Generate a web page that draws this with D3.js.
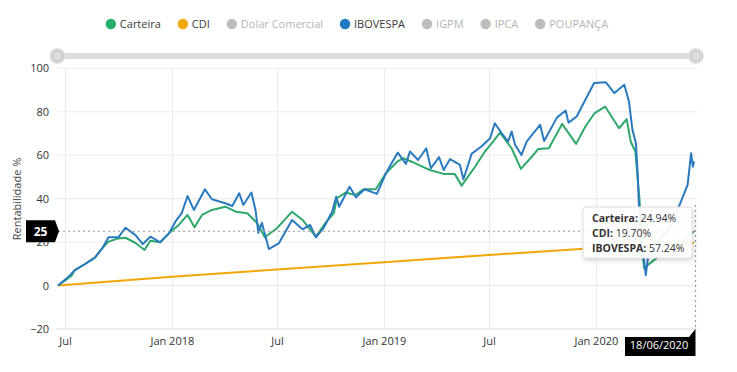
<!DOCTYPE html>
<html><head><meta charset="utf-8">
<script src="https://cdn.jsdelivr.net/npm/d3@7"></script>
<style>
body{margin:0;background:#fff;}
svg{display:block;font-family:"Open Sans",sans-serif;}
</style></head>
<body><svg id="c" width="737" height="372"></svg>
<script>
const legendNames = ["Carteira","CDI","Dolar Comercial","IBOVESPA","IGPM","IPCA","POUPANÇA"];
const legendActive = [true,true,false,true,false,false,false];
const legendColors = ["#27ad6c","#f4a70a","#bdbdbd","#2079c3","#bdbdbd","#bdbdbd","#bdbdbd"];

const ibovDates = ["2017-06-19","2017-07-04","2017-07-18","2017-08-04","2017-08-22","2017-09-03","2017-09-14","2017-10-01","2017-10-13","2017-10-30","2017-11-12","2017-11-25","2017-12-12","2017-12-27","2018-01-07","2018-01-18","2018-01-28","2018-02-08","2018-02-27","2018-03-11","2018-04-03","2018-04-15","2018-04-27","2018-05-04","2018-05-18","2018-05-25","2018-05-30","2018-06-05","2018-06-17","2018-07-04","2018-07-27","2018-08-14","2018-08-27","2018-09-06","2018-09-19","2018-10-04","2018-10-11","2018-10-16","2018-11-03","2018-11-14","2018-11-29","2018-12-20","2019-01-06","2019-01-25","2019-02-08","2019-02-15","2019-03-01","2019-03-15","2019-03-23","2019-04-06","2019-04-14","2019-04-25","2019-05-12","2019-05-18","2019-05-27","2019-06-01","2019-06-18","2019-07-03","2019-07-11","2019-07-23","2019-08-03","2019-08-09","2019-08-15","2019-08-26","2019-09-04","2019-09-13","2019-09-27","2019-10-04","2019-10-26","2019-11-10","2019-11-15","2019-11-29","2019-12-29","2020-01-18","2020-02-02","2020-02-19","2020-02-27","2020-03-04","2020-03-10","2020-03-13","2020-03-15","2020-03-20","2020-03-24","2020-03-27","2020-03-31","2020-04-10","2020-04-20","2020-04-30","2020-05-10","2020-05-23","2020-06-07","2020-06-13","2020-06-16","2020-06-18"];
const ibovValues = [0,3.3,7.1,9.8,13,17.1,22.2,22.2,26.6,23.3,19.1,22.5,19.9,24,29.4,33.3,41.2,34.8,44.3,39.7,37.9,36.6,42.5,37.1,42.8,34.8,24.3,28.9,16.8,19.4,30.2,25.9,27.9,22.2,26.4,34,40.9,36.3,45.5,40.6,44.3,42.2,52.4,61.2,56,61.7,57.8,63.2,54,59.1,53.2,58.2,55.5,48.9,56.3,60.6,64,67.8,74.7,70.1,66.3,70.9,64.7,60.1,66.3,69.4,74,66.5,77.3,80.6,75,77.8,93.2,93.6,88.6,92.4,84.7,71.7,65.5,51.7,37.9,17.9,11.8,4.8,13.3,16,22,24,28,36.3,46.3,60.9,54.7,57.24];

const carteiraDates = ["2017-06-19","2017-07-12","2017-07-18","2017-08-04","2017-08-22","2017-09-03","2017-09-14","2017-10-01","2017-10-13","2017-10-30","2017-11-15","2017-11-25","2017-12-12","2017-12-30","2018-01-13","2018-01-28","2018-02-09","2018-02-22","2018-03-11","2018-04-03","2018-04-21","2018-05-11","2018-05-28","2018-06-10","2018-07-01","2018-07-27","2018-08-14","2018-09-06","2018-09-22","2018-10-07","2018-10-12","2018-10-27","2018-11-13","2018-11-27","2018-12-18","2019-01-04","2019-01-24","2019-02-04","2019-02-18","2019-03-10","2019-03-21","2019-04-14","2019-05-03","2019-05-15","2019-06-07","2019-06-24","2019-07-08","2019-07-20","2019-08-09","2019-08-25","2019-09-13","2019-09-24","2019-10-12","2019-11-04","2019-11-28","2019-12-14","2019-12-30","2020-01-17","2020-02-10","2020-02-23","2020-03-01","2020-03-09","2020-03-16","2020-03-20","2020-03-24","2020-04-03","2020-04-14","2020-04-28","2020-05-15","2020-06-01","2020-06-18"];
const carteiraValues = [0,4.4,7.1,9.8,13,17.1,20.2,21.7,22,19.7,16.4,20.6,19.9,24.8,27.9,32.5,26.8,32.5,34.8,36.3,34,33.3,28.7,22.2,26.4,34,30.2,22.5,28.7,33.3,40.2,42.8,41.7,44.3,44.3,51.5,57,58.6,57,54.5,53.2,51.4,51.4,46,54.7,61.7,66.3,70.4,63.2,53.7,59.4,62.9,63.2,74.4,65.2,73.2,79.4,82.4,72.4,76.6,66.3,61.7,40,20,8,10.2,12.5,15,18,21,24.94];

const cdiDates = ["2017-06-19","2018-01-01","2018-07-01","2019-01-01","2019-07-01","2020-01-01","2020-06-18"];
const cdiValues = [0,4.1,7.4,10.7,14.1,17.3,19.70];

const xTickDates = ["2017-07-01","2018-01-01","2018-07-01","2019-01-01","2019-07-01","2020-01-01"];
const xTickLabels = ["Jul","Jan 2018","Jul","Jan 2019","Jul","Jan 2020"];
const yTicks = [-20,0,20,40,60,80,100];

const tooltipLabels = ["Carteira:","CDI:","IBOVESPA:"];
const tooltipValues = ["24.94%","19.70%","57.24%"];
const crossValue = 25;
const crossDateLabel = "18/06/2020";
const yTitle = "Rentabilidade %";

const parse = d3.utcParse("%Y-%m-%d");
const svg = d3.select("#c");

const x = d3.scaleUtc().domain([parse("2017-06-19"), parse("2020-06-18")]).range([58, 694]);
const y = d3.scaleLinear().domain([-20, 100]).range([329, 68.3]);

// defs
const defs = svg.append("defs");
const f = defs.append("filter").attr("id","sh").attr("x","-20%").attr("y","-20%").attr("width","140%").attr("height","150%");
f.append("feDropShadow").attr("dx",1).attr("dy",2).attr("stdDeviation",2).attr("flood-color","#000").attr("flood-opacity",0.18);

// legend
const lg = svg.append("g");
let lx = 0;
const items = legendNames.map((n,i)=>{
  const g = lg.append("g");
  g.append("circle").attr("cx",5).attr("cy",0).attr("r",5.2).attr("fill",legendColors[i]);
  const t = g.append("text").attr("x",14).attr("y",4).attr("font-size",11)
    .attr("fill", legendActive[i] ? "#3a3a3a" : "#b5b5b5").text(n);
  const w = 14 + t.node().getComputedTextLength();
  g.attr("transform",`translate(${lx},0)`);
  lx += w + 17;
  return g;
});
const totalW = lx - 17;
lg.attr("transform",`translate(${357 - totalW/2},24)`);

// slider
svg.append("rect").attr("x",57).attr("y",53).attr("width",640).attr("height",6).attr("rx",3).attr("fill","#dcdcdc");
[57.5, 696].forEach(cx=>{
  svg.append("circle").attr("cx",cx).attr("cy",56).attr("r",7.5).attr("fill","#d3d3d3").attr("stroke","#e4e4e4");
  svg.append("line").attr("x1",cx-1.5).attr("x2",cx-1.5).attr("y1",52.5).attr("y2",59.5).attr("stroke","#f2f2f2");
  svg.append("line").attr("x1",cx+1.5).attr("x2",cx+1.5).attr("y1",52.5).attr("y2",59.5).attr("stroke","#f2f2f2");
});

// grid
const grid = svg.append("g");
yTicks.forEach(v=>{
  grid.append("line").attr("x1",57).attr("x2",697).attr("y1",y(v)).attr("y2",y(v))
    .attr("stroke", v===-20 ? "#dcdcdc" : "#ebebeb").attr("stroke-width",1);
});
xTickDates.forEach(d=>{
  const xx = Math.round(x(parse(d)))+0.5;
  grid.append("line").attr("x1",xx).attr("x2",xx).attr("y1",y(100)).attr("y2",y(-20))
    .attr("stroke","#ebebeb");
});

// axes labels
const yAxis = svg.append("g").attr("transform","translate(49,0)")
  .call(d3.axisLeft(y).tickValues(yTicks).tickSize(0).tickPadding(0));
yAxis.select(".domain").remove();
yAxis.selectAll("text").attr("font-size",11).attr("fill","#333").attr("font-family","Open Sans, sans-serif");

const xAxis = svg.append("g").attr("transform","translate(0,337)")
  .call(d3.axisBottom(x).tickValues(xTickDates.map(parse)).tickSize(0).tickPadding(0)
    .tickFormat((d,i)=>xTickLabels[i]));
xAxis.select(".domain").remove();
xAxis.selectAll("text").attr("font-size",11).attr("fill","#333").attr("font-family","Open Sans, sans-serif");

svg.append("text").attr("transform",`translate(21,199) rotate(-90)`).attr("text-anchor","middle")
  .attr("font-size",11).attr("fill","#444").text(yTitle);

// lines
const line = d3.line().x(d=>x(d[0])).y(d=>y(d[1])).curve(d3.curveLinear);
function series(dates, vals){ return dates.map((d,i)=>[parse(d), vals[i]]); }
svg.append("path").datum(series(cdiDates,cdiValues)).attr("d",line).attr("fill","none")
  .attr("stroke","#f2a60c").attr("stroke-width",2);
svg.append("path").datum(series(carteiraDates,carteiraValues)).attr("d",line).attr("fill","none")
  .attr("stroke","#2ea86b").attr("stroke-width",2).attr("stroke-linejoin","round");
svg.append("path").datum(series(ibovDates,ibovValues)).attr("d",line).attr("fill","none")
  .attr("stroke","#2a7ac0").attr("stroke-width",2).attr("stroke-linejoin","round");

// crosshair
const cy = y(crossValue);
const endX = x(parse("2020-06-18")) + 1.5;
svg.append("line").attr("x1",58).attr("x2",endX).attr("y1",cy).attr("y2",cy)
  .attr("stroke","#9a9a9a").attr("stroke-width",1.2).attr("stroke-dasharray","2,3");
svg.append("line").attr("x1",endX).attr("x2",endX).attr("y1",205).attr("y2",y(-20))
  .attr("stroke","#9a9a9a").attr("stroke-width",1.2).attr("stroke-dasharray","2,3");

// y crosshair label
svg.append("path").attr("d",`M26,${cy-11}H55L59,${cy}L55,${cy+11}H26Z`).attr("fill","#000");
svg.append("text").attr("x",40.5).attr("y",cy+4.5).attr("text-anchor","middle").attr("font-size",12)
  .attr("font-weight","bold").attr("fill","#fff").text(crossValue);

// x crosshair label
svg.append("path").attr("d",`M625,337H689L${endX},329V356H625Z`).attr("fill","#000");
svg.append("text").attr("x",659).attr("y",348.5).attr("text-anchor","middle").attr("font-size",11)
  .attr("fill","#fff").text(crossDateLabel);

// tooltip
svg.append("rect").attr("x",583).attr("y",207).attr("width",109).attr("height",51).attr("rx",3)
  .attr("fill","rgba(255,255,255,0.93)").attr("stroke","#e0e0e0").attr("filter","url(#sh)");
tooltipLabels.forEach((l,i)=>{
  const t = svg.append("text").attr("x",592).attr("y",222+i*15).attr("font-size",10.5).attr("fill","#333");
  t.append("tspan").attr("font-weight","bold").text(l+" ");
  t.append("tspan").text(tooltipValues[i]);
});
</script></body></html>
